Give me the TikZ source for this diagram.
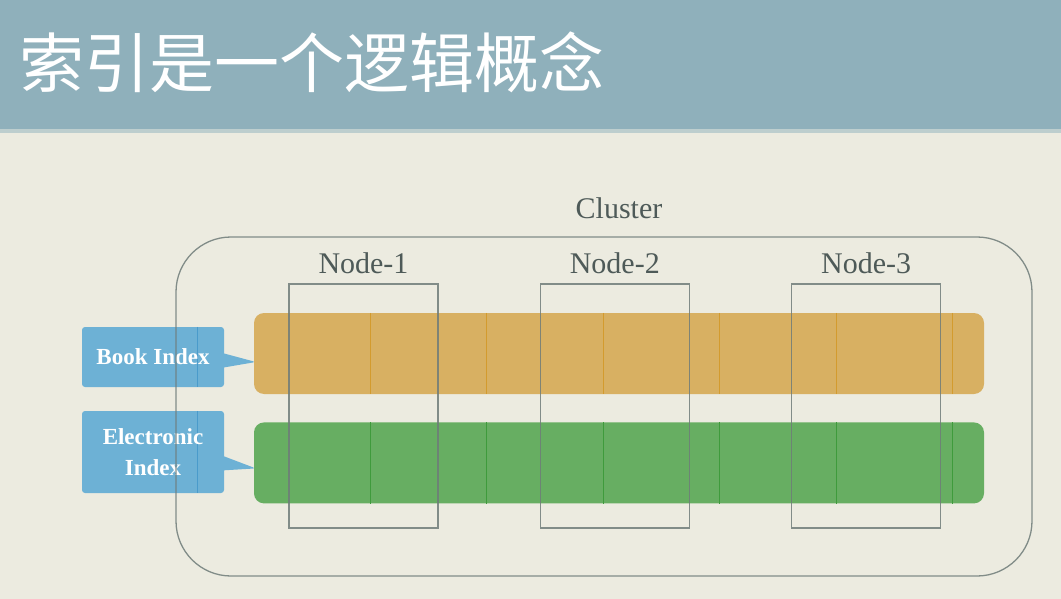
\documentclass[tikz,border=0pt]{standalone}
\usepackage{fontspec}
\setmainfont{Liberation Serif}
\newfontfamily\cjk{Noto Sans CJK SC}
\usetikzlibrary{positioning,calc,shapes.callouts}
\definecolor{HeaderBlue}{HTML}{8FB0BB}
\definecolor{PaperBg}{HTML}{ECEBE0}
\definecolor{BookOrange}{HTML}{D8B062}
\definecolor{BookLine}{HTML}{D39B2E}
\definecolor{ElecGreen}{HTML}{67AE62}
\definecolor{ElecLine}{HTML}{3F9B3C}
\definecolor{CalloutBlue}{HTML}{6DB1D5}
\definecolor{CalloutLine}{HTML}{4A9BCB}
\definecolor{OutlineGray}{HTML}{6F7C79}
\definecolor{LabelGray}{HTML}{4E5A58}

\begin{document}
\begin{tikzpicture}[
    x=1pt,y=-1pt,
    bar/.style={rounded corners=10pt,minimum width=730pt,minimum height=81pt,
      inner sep=0pt},
    callbox/.style={rectangle callout,fill=CalloutBlue,rounded corners=3pt,
      callout pointer width=14pt,minimum width=142pt,inner sep=0pt},
    calltext/.style={align=center,text=white,inner sep=0pt,
      font=\fontsize{23}{31}\selectfont\bfseries},
    nodebox/.style={draw=OutlineGray,line width=1.3pt,opacity=0.85,
      minimum width=149pt,minimum height=244pt,inner sep=0pt},
    clusterbox/.style={draw=OutlineGray,line width=1.3pt,opacity=0.85,
      rounded corners=55pt,minimum width=856pt,minimum height=339pt,inner sep=0pt},
    lbl/.style={text=LabelGray,font=\fontsize{30}{34}\selectfont}
  ]
    % background and header
    \fill[PaperBg] (0,0) rectangle (1061,599);
    \fill[HeaderBlue] (0,0) rectangle (1061,130);
    \fill[HeaderBlue!50!PaperBg] (0,129) rectangle (1061,133);
    \useasboundingbox (0,0) rectangle (1061,599);
    \node[anchor=west,text=white,font=\cjk\fontsize{65}{65}\selectfont,inner sep=0pt]
      (title) at (19,62) {索引是一个逻辑概念};

    % index bars
    \node[bar,fill=BookOrange] (book) at (619,353.5) {};
    \node[bar,fill=ElecGreen,below=28pt of book] (elec) {};
    \foreach \k in {1,...,6} {
      \draw[BookLine,line width=0.8pt] ($(book.north west)+(\k*116.5,0)$) -- ($(book.south west)+(\k*116.5,0)$);
      \draw[ElecLine,line width=0.8pt] ($(elec.north west)+(\k*116.5,0)$) -- ($(elec.south west)+(\k*116.5,0)$);
    }

    % callouts
    \node[callbox,minimum height=60pt,callout absolute pointer={($(book.west)+(2,8.5)$)}]
      (bookidx) at (153,357) {};
    \node[callbox,minimum height=82pt,callout absolute pointer={($(elec.west)+(2,5.5)$)}]
      (elecidx) at (153,452) {};
    \draw[CalloutLine,line width=0.8pt] ($(bookidx.north west)+(116,0)$) -- ($(bookidx.south west)+(116,0)$);
    \draw[CalloutLine,line width=0.8pt] ($(elecidx.north west)+(116,0)$) -- ($(elecidx.south west)+(116,0)$);
    \node[calltext] at (bookidx) {Book Index};
    \node[calltext] at (elecidx) {Electronic\\Index};

    % nodes and cluster
    \node[nodebox] (node1) at (363.5,406) {};
    \node[nodebox,right=101pt of node1] (node2) {};
    \node[nodebox,right=101pt of node2] (node3) {};
    \node[lbl,above=6pt of node1] {Node-1};
    \node[lbl,above=6pt of node2] {Node-2};
    \node[lbl,above=6pt of node3] {Node-3};
    \node[clusterbox] (cluster) at (604,406.5) {};
    \node[lbl] (clusterlbl) at (619,208) {Cluster};
  \end{tikzpicture}
\end{document}
